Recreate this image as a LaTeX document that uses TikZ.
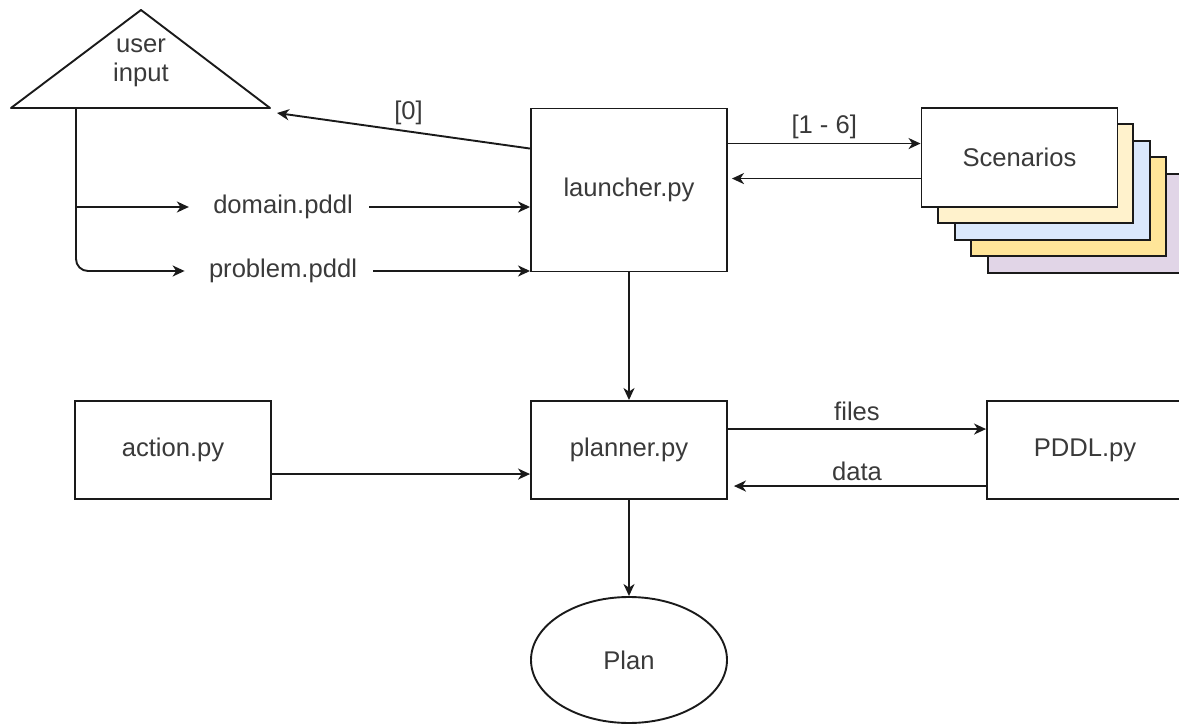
\documentclass[tikz,border=0pt]{standalone}
\usepackage{fontspec}
\setmainfont{Liberation Sans}
\usetikzlibrary{calc,arrows.meta,positioning,shapes.geometric}
\definecolor{linec}{HTML}{1A1A1A}
\definecolor{txtc}{HTML}{3A3A3A}
\definecolor{yell}{HTML}{FFF2CC}
\definecolor{blul}{HTML}{DAE8FC}
\definecolor{yeld}{HTML}{FFE599}
\definecolor{purl}{HTML}{E1D5E7}
\tikzset{
  ar/.style={-{Stealth[length=6pt,width=5.5pt,inset=1.8pt]},line width=0.95pt,linec},
  box/.style={draw=linec,line width=0.95pt,fill=white,minimum width=98pt,align=center,text=txtc},
  lbl/.style={text=txtc,inner sep=2pt}
}

\begin{document}
\begin{tikzpicture}[x=0.5pt,y=-0.5pt,font=\fontsize{12.8}{14.5}\selectfont]
\useasboundingbox (0,0) rectangle (1179,727);
% user input triangle
\draw[line width=0.95pt,linec,line join=round] (11,108) -- (141,10) -- (270,108) -- cycle;
\node[lbl,align=center] (uinput) at (141,63) {user\\input};
\coordinate (ucorner) at (277,113);
\coordinate (ufoot) at (76,108);
\coordinate (split) at (76,207);
% stacked scenario cards
\foreach \k/\c in {4/purl,3/yeld,2/blul,1/yell}
  \draw[line width=0.95pt,linec,fill=\c] (922+\k*16.4,108+\k*16.4) rectangle ++(195,99);
\node[box,minimum height=81.5pt] (launch) at (629,190) {launcher.py};
\node[box,minimum height=49.5pt] (scen) at (1019.5,157.5) {Scenarios};
\node[box,minimum height=49pt] (action) at (173,450) {action.py};
\node[box,minimum height=49pt] (planner) at (629,450) {planner.py};
\node[box,minimum height=49pt] (pddl) at (1085,450) {PDDL.py};
\node[box,ellipse,minimum height=63pt,inner sep=0pt] (plan) at (629,660) {Plan};
% input files
\node[lbl] (dom) at (283,207) {domain.pddl};
\node[lbl] (prob) at (283,271) {problem.pddl};
\draw[ar] (split) -- ([xshift=-10pt]dom.west);
\draw[ar,rounded corners=6pt] (ufoot) |- ([xshift=-10pt]prob.west);
\draw[ar] ([xshift=6pt]dom.east) -- (dom.east -| launch.west);
\draw[ar] ([xshift=6pt]prob.east) -- (prob.east -| launch.west);
% launcher links
\coordinate (l0) at ([yshift=-20.5pt]launch.north west);
\draw[ar] (l0) -- (ucorner) node[lbl,pos=0.48,above=1pt] (lzero) {[0]};
\coordinate (l1) at ([yshift=-18pt]launch.north east);
\coordinate (l2) at ([yshift=-35.5pt]launch.north east);
\draw[ar] (l1) -- (l1 -| scen.west) node[lbl,midway,above=0pt] (lsix) {[1 - 6]};
\draw[ar,shorten >=2pt] (l2 -| scen.west) -- (l2);
\draw[ar] (launch) -- (planner);
% planner links
\coordinate (p1) at ([yshift=-14.5pt]planner.north east);
\coordinate (p2) at ([yshift=-43pt]planner.north east);
\draw[ar] (p1) -- (p1 -| pddl.west) node[lbl,midway,above=1.5pt] (lfiles) {files};
\draw[ar,shorten >=3pt] (p2 -| pddl.west) -- (p2) node[lbl,midway,above=0pt] (ldata) {data};
\coordinate (a1) at ([yshift=-37pt]action.north east);
\draw[ar] (a1) -- (a1 -| planner.west);
\draw[ar] (planner) -- (plan);
\end{tikzpicture}
\end{document}
